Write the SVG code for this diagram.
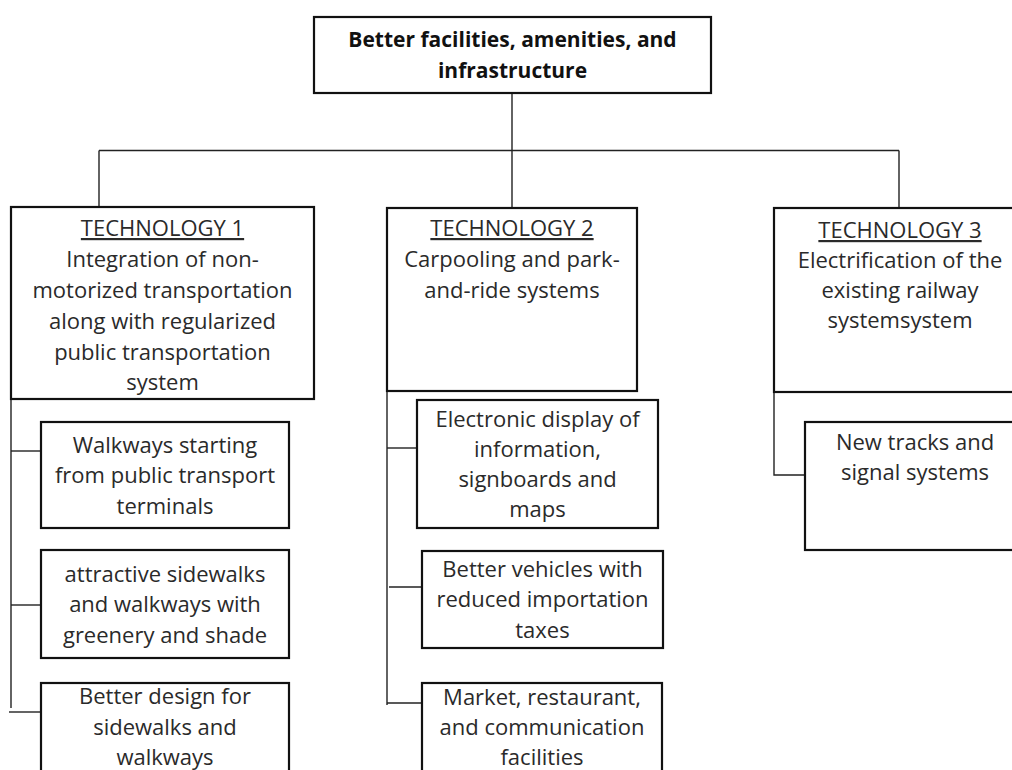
<svg xmlns="http://www.w3.org/2000/svg" width="1012" height="770" viewBox="0 0 1012 770">
  <style>
    .box { fill: #fff; stroke: #111; stroke-width: 2.2; }
    .link { fill: none; stroke: #222; stroke-width: 1.4; }
    text { font-family: "Open Sans", "Noto Sans", "Liberation Sans", sans-serif; font-size: 22px; fill: #2a2a2a; text-anchor: middle; }
    .title { font-weight: bold; fill: #111; font-size: 21px; }
    .head { text-decoration: underline; }
  </style>
  <rect width="1012" height="770" fill="#fff"/>

  <!-- connectors -->
  <g id="connectors">
    <path class="link" d="M512 93 V207"/>
    <path class="link" d="M99 150.5 H899"/>
    <path class="link" d="M99 150.5 V207"/>
    <path class="link" d="M899 150.5 V208"/>
    <!-- technology 1 branches -->
    <path class="link" d="M11 399 V708"/>
    <path class="link" d="M11 451 H41"/>
    <path class="link" d="M11 605 H41"/>
    <path class="link" d="M9 712 H41"/>
    <!-- technology 2 branches -->
    <path class="link" d="M387 391 V705"/>
    <path class="link" d="M387 448 H417"/>
    <path class="link" d="M389 587 H422"/>
    <path class="link" d="M387 703 H423"/>
    <!-- technology 3 branch -->
    <path class="link" d="M774 392 V475 H805"/>
  </g>

  <g id="root">
    <rect class="box" x="314" y="17" width="397" height="76" stroke-width="2.6"/>
    <text class="title" x="512.5" y="47">Better facilities, amenities, and</text>
    <text class="title" x="512.5" y="78">infrastructure</text>
  </g>

  <g id="tech1">
    <rect class="box" x="11" y="207" width="303" height="192"/>
    <text class="head" x="162.5" y="236">TECHNOLOGY 1</text>
    <text x="162.5" y="267">Integration of non-</text>
    <text x="162.5" y="298">motorized transportation</text>
    <text x="162.5" y="329">along with regularized</text>
    <text x="162.5" y="360">public transportation</text>
    <text x="162.5" y="390">system</text>
  </g>

  <g id="tech2">
    <rect class="box" x="387" y="208" width="250" height="183"/>
    <text class="head" x="512" y="236">TECHNOLOGY 2</text>
    <text x="512" y="267">Carpooling and park-</text>
    <text x="512" y="298">and-ride systems</text>
  </g>

  <g id="tech3">
    <rect class="box" x="774" y="208" width="252" height="184"/>
    <text class="head" x="900" y="238">TECHNOLOGY 3</text>
    <text x="900" y="268">Electrification of the</text>
    <text x="900" y="298">existing railway</text>
    <text x="900" y="328">systemsystem</text>
  </g>

  <g id="t1-walkways">
    <rect class="box" x="41" y="422" width="248" height="106"/>
    <text x="165" y="453">Walkways starting</text>
    <text x="165" y="483">from public transport</text>
    <text x="165" y="514">terminals</text>
  </g>

  <g id="t1-sidewalks">
    <rect class="box" x="41" y="550" width="248" height="108"/>
    <text x="165" y="582">attractive sidewalks</text>
    <text x="165" y="612">and walkways with</text>
    <text x="165" y="643">greenery and shade</text>
  </g>

  <g id="t1-design">
    <rect class="box" x="41" y="683" width="248" height="100"/>
    <text x="165" y="704">Better design for</text>
    <text x="165" y="735">sidewalks and</text>
    <text x="165" y="765">walkways</text>
  </g>

  <g id="t2-display">
    <rect class="box" x="417" y="400" width="241" height="128"/>
    <text x="537.5" y="427">Electronic display of</text>
    <text x="537.5" y="457">information,</text>
    <text x="537.5" y="487">signboards and</text>
    <text x="537.5" y="517">maps</text>
  </g>

  <g id="t2-vehicles">
    <rect class="box" x="422" y="551" width="241" height="97"/>
    <text x="542.5" y="577">Better vehicles with</text>
    <text x="542.5" y="607">reduced importation</text>
    <text x="542.5" y="638">taxes</text>
  </g>

  <g id="t2-market">
    <rect class="box" x="422" y="683" width="240" height="100"/>
    <text x="542" y="705">Market, restaurant,</text>
    <text x="542" y="735">and communication</text>
    <text x="542" y="765">facilities</text>
  </g>

  <g id="t3-tracks">
    <rect class="box" x="805" y="422" width="221" height="128"/>
    <text x="915" y="450">New tracks and</text>
    <text x="915" y="480">signal systems</text>
  </g>
</svg>
